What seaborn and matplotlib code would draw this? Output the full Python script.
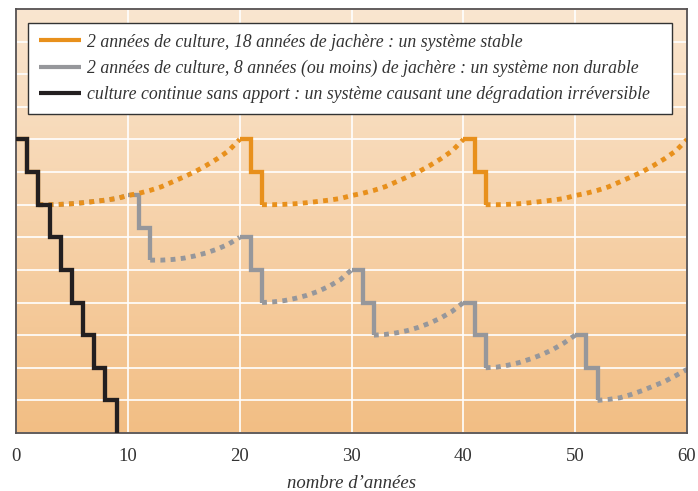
import numpy as np
import pandas as pd
import matplotlib
matplotlib.use("Agg")
import matplotlib.pyplot as plt
from matplotlib.lines import Line2D
from matplotlib.colors import LinearSegmentedColormap
import seaborn as sns

# ---------------- data ----------------
x_ticks = [0, 10, 20, 30, 40, 50, 60]
x_label = "nombre d\u2019années"
labels = [
    "2 années de culture, 18 années de jachère : un système stable",
    "2 années de culture, 8 années (ou moins) de jachère : un système non durable",
    "culture continue sans apport : un système causant une dégradation irréversible",
]

# black: continuous cropping (steps)
black_years = [0, 1, 2, 3, 4, 5, 6, 7, 8, 9]
black_levels = [9, 8, 7, 6, 5, 4, 3, 2, 1, 0]

# orange: culture phases (steps) and fallow phases (dotted)
orange_crop_years = [[0, 1, 2], [20, 21, 22], [40, 41, 42]]
orange_crop_levels = [[9, 8, 7], [9, 8, 7], [9, 8, 7]]
orange_fallow_years = [list(range(2, 21)), list(range(22, 41)), list(range(42, 61))]
orange_fallow_levels = [
    [7.0, 7.0, 7.01, 7.03, 7.06, 7.10, 7.14, 7.19, 7.28, 7.35, 7.44, 7.55, 7.70, 7.85, 8.01, 8.20, 8.41, 8.65, 9.0],
    [7.0, 7.0, 7.01, 7.03, 7.06, 7.10, 7.14, 7.19, 7.28, 7.35, 7.44, 7.55, 7.70, 7.85, 8.01, 8.20, 8.41, 8.65, 9.0],
    [7.0, 7.0, 7.01, 7.03, 7.06, 7.10, 7.14, 7.19, 7.28, 7.35, 7.44, 7.55, 7.70, 7.85, 8.01, 8.20, 8.41, 8.65, 9.0],
]

# grey: culture phases (steps) and short fallows (dotted)
grey_crop_years = [[10, 11, 12], [20, 21, 22], [30, 31, 32], [40, 41, 42], [50, 51, 52]]
grey_crop_levels = [[7.3, 6.3, 5.3], [6, 5, 4], [5, 4, 3], [4, 3, 2], [3, 2, 1]]
grey_fallow_years = [list(range(2, 11)), list(range(12, 21)), list(range(22, 31)),
                     list(range(32, 41)), list(range(42, 51)), list(range(52, 61))]
grey_fallow_levels = [
    [7.0, 7.0, 7.01, 7.03, 7.06, 7.10, 7.14, 7.19, 7.28],
    [5.3, 5.30, 5.32, 5.36, 5.43, 5.52, 5.64, 5.79, 6.0],
    [4.0, 4.02, 4.06, 4.13, 4.22, 4.34, 4.50, 4.70, 5.0],
    [3.0, 3.02, 3.07, 3.14, 3.24, 3.37, 3.53, 3.73, 4.0],
    [2.0, 2.02, 2.08, 2.16, 2.27, 2.40, 2.56, 2.76, 3.0],
    [1.0, 1.03, 1.08, 1.18, 1.30, 1.44, 1.58, 1.76, 1.95],
]

ORANGE = "#E8901C"
GREY = "#96979B"
BLACK = "#231F20"

# ---------------- figure ----------------
sns.set_style("white")
plt.rcParams["font.family"] = ["Liberation Serif", "DejaVu Serif"]

fig = plt.figure(figsize=(6.98, 4.91), dpi=100)
ax = fig.add_axes([16 / 698, 58 / 491, 671 / 698, 424 / 491])

# gradient background
cmap = LinearSegmentedColormap.from_list("bg", ["#F2BE84", "#F6D2AA", "#FAE6D0"])
grad = np.linspace(0, 1, 256).reshape(-1, 1)
ax.imshow(grad, extent=[0, 60, 0, 13], origin="lower", aspect="auto", cmap=cmap, zorder=0)

LW = 3.1
LW_DOT = 3.5
dots = (0, (1.0, 1.1))


def seg(x, y, color, dotted=False, z=2):
    df = pd.DataFrame({"x": x, "y": y})
    if dotted:
        sns.lineplot(data=df, x="x", y="y", ax=ax, color=color, lw=LW_DOT, sort=False,
                     estimator=None, linestyle=dots, dash_capstyle="butt", zorder=z)
    else:
        sns.lineplot(data=df, x="x", y="y", ax=ax, color=color, lw=LW, sort=False,
                     estimator=None, drawstyle="steps-post", solid_joinstyle="miter",
                     solid_capstyle="butt", zorder=z)


for xs, ys in zip(grey_fallow_years, grey_fallow_levels):
    seg(xs, ys, GREY, dotted=True, z=2)
for xs, ys in zip(grey_crop_years, grey_crop_levels):
    seg(xs, ys, GREY, z=2.2)
for xs, ys in zip(orange_fallow_years, orange_fallow_levels):
    seg(xs, ys, ORANGE, dotted=True, z=2.4)
for xs, ys in zip(orange_crop_years, orange_crop_levels):
    seg(xs, ys, ORANGE, z=2.6)
seg(black_years, black_levels, BLACK, z=3)

ax.set_xlim(0, 60)
ax.set_ylim(0, 13)
ax.set_xticks(x_ticks)
ax.set_xticklabels([str(t) for t in x_ticks])
ax.set_yticks(range(0, 14))
ax.set_yticklabels([])
ax.grid(True, color="white", lw=1.2)
ax.set_axisbelow("line")
ax.tick_params(axis="both", length=0)
ax.tick_params(axis="x", pad=11, labelsize=13.5, colors="#333333")
ax.set_xlabel(x_label, fontsize=13.5, style="italic", color="#333333", labelpad=7)
ax.set_ylabel("")

for s in ax.spines.values():
    s.set_visible(True)
    s.set_color("#555050")
    s.set_linewidth(1.3)

handles = [Line2D([], [], color=c, lw=3.0, solid_capstyle="butt") for c in (ORANGE, GREY, BLACK)]
leg = ax.legend(handles, labels, loc="upper left",
                bbox_to_anchor=(12 / 671, 410 / 424, 644 / 671, 0.0), mode="expand",
                prop={"family": "Liberation Serif", "style": "italic", "size": 12.8},
                frameon=True, fancybox=False, framealpha=1, edgecolor="#333333",
                facecolor="white", handlelength=2.4, handletextpad=0.34,
                labelspacing=0.52, borderpad=0.6, borderaxespad=0)
leg.get_frame().set_linewidth(1.0)
for t in leg.get_texts():
    t.set_color("#333333")

fig.savefig("out.png", dpi=100)
